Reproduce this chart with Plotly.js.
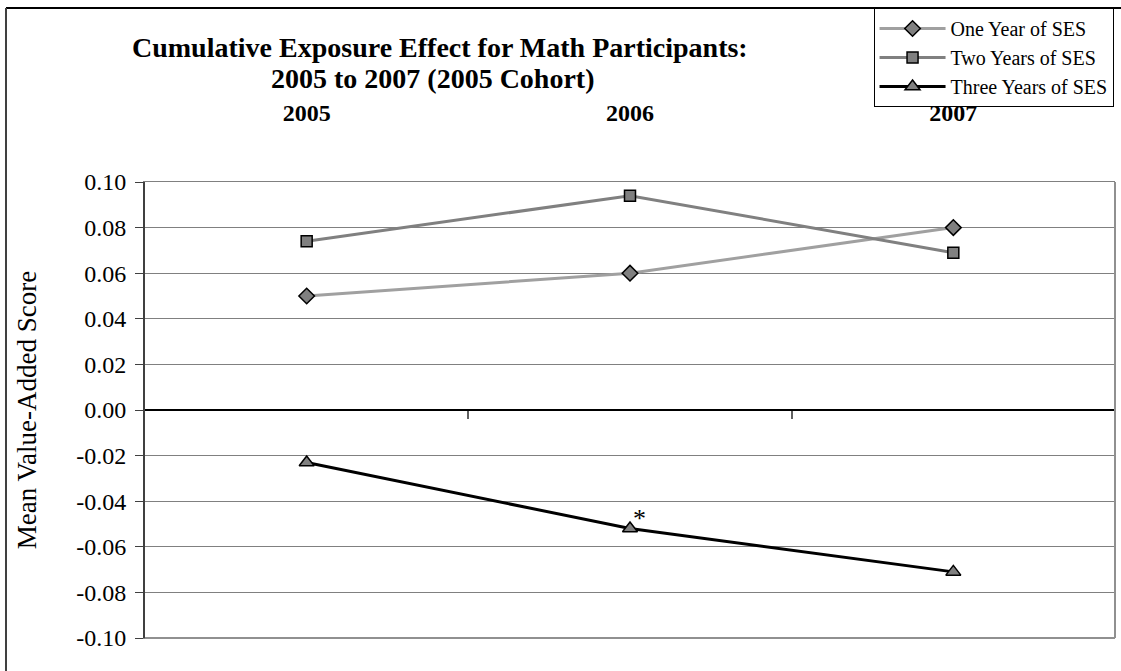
<!DOCTYPE html>
<html>
<head>
<meta charset="utf-8">
<script src="https://cdn.plot.ly/plotly-3.0.1.min.js"></script>
<style>html,body{margin:0;padding:0;background:#fff;}#chart{width:1121px;height:671px;}</style>
</head>
<body>
<div id="chart"></div>
<script>
const years = ['2005', '2006', '2007'];
const oneYear = [0.050, 0.060, 0.080];
const twoYears = [0.074, 0.094, 0.069];
const threeYears = [-0.023, -0.052, -0.071];
const seriesNames = ['One Year of SES', 'Two Years of SES', 'Three Years of SES'];
const yTicks = [0.10, 0.08, 0.06, 0.04, 0.02, 0.00, -0.02, -0.04, -0.06, -0.08, -0.10];
const yTickLabels = ['0.10', '0.08', '0.06', '0.04', '0.02', '0.00', '-0.02', '-0.04', '-0.06', '-0.08', '-0.10'];
const titleLines = ['Cumulative Exposure Effect for Math Participants:', '2005 to 2007 (2005 Cohort)'];
const yTitle = 'Mean Value-Added Score';
const starIndex = 1;

const xIdx = years.map((_, i) => i);
const font = '"Liberation Serif", "Times New Roman", serif';

const traces = [
  {x: xIdx, y: oneYear, name: seriesNames[0], mode: 'lines+markers',
   line: {color: '#a0a0a0', width: 3},
   marker: {symbol: 'diamond', size: 12, color: '#808080', line: {color: '#000', width: 1.5}}},
  {x: xIdx, y: twoYears, name: seriesNames[1], mode: 'lines+markers',
   line: {color: '#808080', width: 3},
   marker: {symbol: 'square', size: 11, color: '#808080', line: {color: '#000', width: 1.5}}},
  {x: xIdx, y: threeYears, name: seriesNames[2], mode: 'lines+markers',
   line: {color: '#000', width: 3},
   marker: {symbol: 'triangle-up', size: 13, color: '#808080', line: {color: '#000', width: 1.5}}},
  {x: xIdx, y: threeYears.map(() => 0), xaxis: 'x2', yaxis: 'y', mode: 'none', showlegend: false, hoverinfo: 'skip'}
];

const layout = {
  width: 1121, height: 671,
  margin: {l: 145, r: 6, t: 182, b: 33},
  paper_bgcolor: '#fff', plot_bgcolor: '#fff',
  font: {family: font, color: '#000', size: 17},
  showlegend: true,
  legend: {
    x: 0.9985, xanchor: 'right', y: 1.3816, yanchor: 'top',
    bordercolor: '#000', borderwidth: 1, bgcolor: '#fff',
    font: {family: font, size: 20, color: '#000'},
    traceorder: 'normal', itemwidth: 66, tracegroupgap: 0
  },
  xaxis: {
    range: [-0.5, 2.5], side: 'top', tickmode: 'array', tickvals: xIdx, ticktext: years,
    tickfont: {family: font, size: 24, color: '#000', weight: 'bold'},
    ticks: '', showgrid: false, zeroline: false,
    showline: true, linecolor: '#808080', linewidth: 1, mirror: true,
    ticklabelstandoff: 50, fixedrange: true
  },
  xaxis2: {
    overlaying: 'x', anchor: 'free', position: 0.5, side: 'bottom',
    range: [-0.5, 2.5], tickmode: 'array', tickvals: [0.5, 1.5],
    ticks: 'outside', ticklen: 8, tickwidth: 2, tickcolor: '#606060',
    showticklabels: false, showgrid: false, zeroline: false,
    showline: true, linecolor: '#000', linewidth: 2
  },
  yaxis: {
    range: [-0.1, 0.1], tickmode: 'array', tickvals: yTicks, ticktext: yTickLabels,
    ticks: 'outside', ticklen: 8, tickcolor: '#404040', tickwidth: 1,
    tickfont: {family: font, size: 24, color: '#000'},
    ticklabelstandoff: 4,
    showgrid: true, gridcolor: '#808080', gridwidth: 1, zeroline: false,
    showline: true, linecolor: '#404040', linewidth: 2, mirror: false,
    title: {text: yTitle, font: {family: font, size: 27, color: '#000'}, standoff: 32}
  },
  annotations: [
    {xref: 'paper', yref: 'paper', x: 0.304, y: 1.296, text: '<b>' + titleLines[0] + '</b>',
     showarrow: false, xanchor: 'center', yanchor: 'middle', font: {family: font, size: 28, color: '#000'}},
    {xref: 'paper', yref: 'paper', x: 0.297, y: 1.228, text: '<b>' + titleLines[1] + '</b>',
     showarrow: false, xanchor: 'center', yanchor: 'middle', font: {family: font, size: 28, color: '#000'}},
    {xref: 'x', yref: 'y', x: xIdx[starIndex], y: threeYears[starIndex], text: '*',
     showarrow: false, xanchor: 'left', yanchor: 'middle', xshift: 1, yshift: 10,
     font: {family: font, size: 26, color: '#000'}}
  ],
  shapes: [
    {type: 'line', xref: 'paper', yref: 'paper', x0: -0.1433, x1: 1.02, y0: 1.3816, y1: 1.3816, line: {color: '#000', width: 2}},
    {type: 'line', xref: 'paper', yref: 'paper', x0: -0.1433, x1: -0.1433, y0: 1.3816, y1: -0.2, line: {color: '#404040', width: 2}},
    {type: 'line', xref: 'paper', yref: 'paper', x0: 0, x1: 1, y0: 0, y1: 0, line: {color: '#909090', width: 2}},
    {type: 'line', xref: 'paper', yref: 'paper', x0: 1, x1: 1, y0: 0, y1: 1, line: {color: '#909090', width: 2}}
  ]
};

Plotly.newPlot('chart', traces, layout, {displayModeBar: false, staticPlot: true});
</script>
</body>
</html>
